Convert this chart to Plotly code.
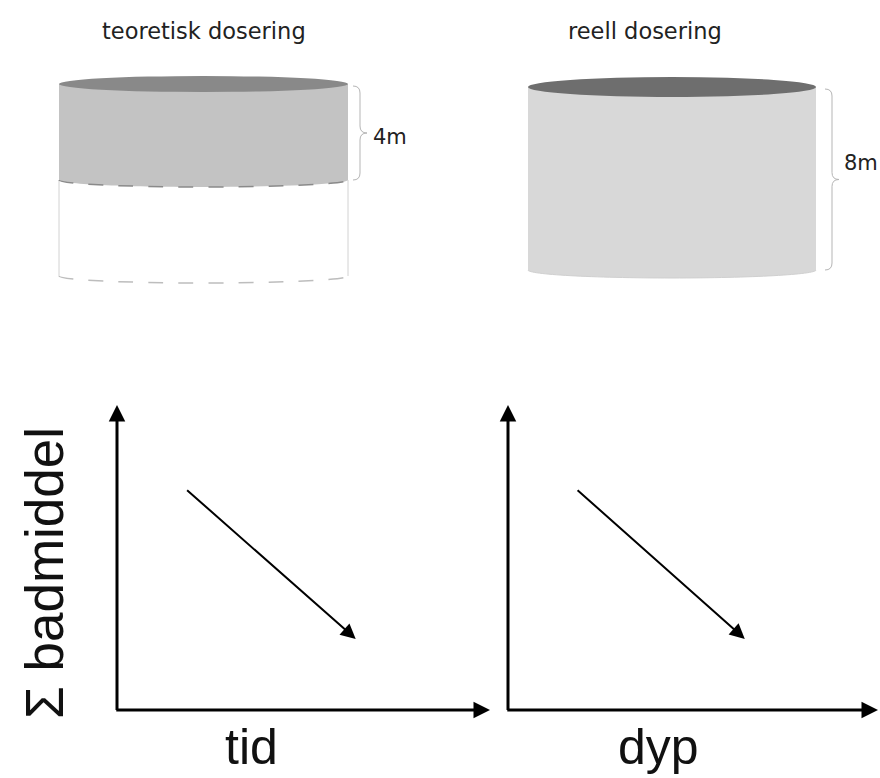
import plotly.graph_objects as go

# ---------------- data ----------------
panel_titles = ["teoretisk dosering", "reell dosering"]
dose_depth_m = [4, 8]          # dosed depth (m)
tank_depth_m = [8, 8]          # full depth of the cage (m)
depth_labels = ["4m", "8m"]
x_axis_labels = ["tid", "dyp"]
y_axis_label = "Σ badmiddel"
trend_x = [0.184, 0.64]        # schematic trend, fraction of axis
trend_y = [0.725, 0.233]

W, H = 880, 778
K = 0.5523

# ---------------- styles / layout geometry ----------------
cyl = [
    dict(x0=59, x1=348, top=84, bottom=276, ry_top=8, ry_bot=7,
         top_color="#898989", fill="#c3c3c3", brace_x=360, label_x=371, label_dy=5, title_x=204),
    dict(x0=528, x1=816, top=87, bottom=270, ry_top=10, ry_bot=8,
         top_color="#6e6e6e", fill="#d8d8d8", brace_x=832, label_x=842, label_dy=-16, title_x=645),
]


def lower_half(cx, cy, rx, ry):
    return (f"M{cx-rx},{cy} "
            f"C{cx-rx},{cy+K*ry} {cx-K*rx},{cy+ry} {cx},{cy+ry} "
            f"C{cx+K*rx},{cy+ry} {cx+rx},{cy+K*ry} {cx+rx},{cy}")


def brace(xv, y0, y1, w=7):
    ym = (y0 + y1) / 2
    return (f"M{xv-w},{y0} Q{xv},{y0} {xv},{y0+w} L{xv},{ym-w} "
            f"Q{xv},{ym} {xv+w},{ym} Q{xv},{ym} {xv},{ym+w} "
            f"L{xv},{y1-w} Q{xv},{y1} {xv-w},{y1}")


shapes = []
annotations = []

for i, c in enumerate(cyl):
    cx = (c["x0"] + c["x1"]) / 2
    rx = (c["x1"] - c["x0"]) / 2
    height = c["bottom"] - c["top"]
    band_bottom = c["top"] + height * dose_depth_m[i] / tank_depth_m[i]

    # empty (undosed) part of the tank
    if band_bottom < c["bottom"] - 1:
        for xe in (c["x0"], c["x1"]):
            shapes.append(dict(type="path", xref="x", yref="y",
                               path=f"M{xe},{band_bottom} L{xe},{c['bottom']}",
                               line=dict(color="#d2d2d2", width=1)))
        shapes.append(dict(type="path", xref="x", yref="y",
                           path=lower_half(cx, c["bottom"], rx, c["ry_bot"]),
                           line=dict(color="#bdbdbd", width=1.5, dash="longdash")))
        band_line = dict(color="#8a8a8a", width=1.5, dash="longdash")
    else:
        band_line = dict(color="#d0d0d0", width=1)

    # dosed water body
    rb = c["ry_bot"]
    body = (f"M{c['x0']},{c['top']} L{c['x0']},{band_bottom} "
            f"C{c['x0']},{band_bottom+K*rb} {cx-K*rx},{band_bottom+rb} {cx},{band_bottom+rb} "
            f"C{cx+K*rx},{band_bottom+rb} {c['x1']},{band_bottom+K*rb} {c['x1']},{band_bottom} "
            f"L{c['x1']},{c['top']} Z")
    shapes.append(dict(type="path", xref="x", yref="y", path=body,
                       fillcolor=c["fill"], line=dict(width=0)))
    shapes.append(dict(type="path", xref="x", yref="y",
                       path=lower_half(cx, band_bottom, rx, rb), line=band_line))
    # top surface
    shapes.append(dict(type="circle", xref="x", yref="y",
                       x0=c["x0"], x1=c["x1"], y0=c["top"] - c["ry_top"], y1=c["top"] + c["ry_top"],
                       fillcolor=c["top_color"], line=dict(width=0)))
    # brace + depth label
    shapes.append(dict(type="path", xref="x", yref="y",
                       path=brace(c["brace_x"], c["top"] + 2, band_bottom),
                       line=dict(color="#b5b5b5", width=1)))
    annotations.append(dict(xref="x", yref="y", x=c["label_x"],
                            y=(c["top"] + band_bottom) / 2 + c["label_dy"],
                            text=depth_labels[i], showarrow=False, xanchor="left", yanchor="middle",
                            font=dict(family="DejaVu Sans", size=21, color="#222")))
    # title
    annotations.append(dict(xref="x", yref="y", x=c["title_x"], y=31, text=panel_titles[i],
                            showarrow=False, xanchor="center", yanchor="middle",
                            font=dict(family="DejaVu Sans", size=22.5, color="#222")))

# ---------------- bottom schematic panels ----------------
panel_x = [(117, 490), (508, 878)]
panel_y = (710, 405)
fig = go.Figure()

fig.add_trace(go.Scatter(x=[0], y=[0], xaxis="x", yaxis="y", mode="markers",
                         marker=dict(opacity=0), hoverinfo="skip", showlegend=False))

layout_axes = {}
for j, (px0, px1) in enumerate(panel_x):
    xa, ya = f"x{j+2}", f"y{j+2}"
    layout_axes[f"xaxis{j+2}"] = dict(domain=[px0 / W, px1 / W], range=[0, 1], visible=False,
                                      anchor=ya, fixedrange=True)
    layout_axes[f"yaxis{j+2}"] = dict(domain=[1 - panel_y[0] / H, 1 - panel_y[1] / H], range=[0, 1],
                                      visible=False, anchor=xa, fixedrange=True)
    fig.add_trace(go.Scatter(x=trend_x, y=trend_y, xaxis=xa, yaxis=ya, mode="lines",
                             line=dict(width=0), hoverinfo="skip", showlegend=False))
    # axes with arrows
    annotations.append(dict(xref=xa, yref=ya, axref=xa, ayref=ya, x=1, y=0, ax=-0.006, ay=0,
                            text="", showarrow=True, arrowhead=2, arrowwidth=3, arrowsize=1.1,
                            arrowcolor="#000"))
    annotations.append(dict(xref=xa, yref=ya, axref=xa, ayref=ya, x=0, y=1, ax=0, ay=-0.005,
                            text="", showarrow=True, arrowhead=2, arrowwidth=3, arrowsize=1.1,
                            arrowcolor="#000"))
    # trend arrow
    annotations.append(dict(xref=xa, yref=ya, axref=xa, ayref=ya,
                            x=trend_x[1], y=trend_y[1], ax=trend_x[0], ay=trend_y[0],
                            text="", showarrow=True, arrowhead=2, arrowwidth=2, arrowsize=1.5,
                            arrowcolor="#000"))
    annotations.append(dict(xref="x", yref="y", x=[251, 658][j], y=747, text=x_axis_labels[j],
                            showarrow=False, xanchor="center", yanchor="middle",
                            font=dict(family="Liberation Sans", size=50, color="#111")))

annotations.append(dict(xref="x", yref="y", x=44, y=573, text=y_axis_label, textangle=-90,
                        showarrow=False, xanchor="center", yanchor="middle",
                        font=dict(family="Liberation Sans", size=53, color="#111")))

fig.update_layout(
    width=W, height=H, margin=dict(l=0, r=0, t=0, b=0),
    paper_bgcolor="white", plot_bgcolor="white", showlegend=False,
    xaxis=dict(domain=[0, 1], range=[0, W], visible=False, fixedrange=True),
    yaxis=dict(domain=[0, 1], range=[H, 0], visible=False, fixedrange=True),
    shapes=shapes, annotations=annotations, **layout_axes,
)

fig.write_html("out.html", config=dict(displayModeBar=False),
               post_script="document.body.style.margin='0px';document.body.style.overflow='hidden';")
